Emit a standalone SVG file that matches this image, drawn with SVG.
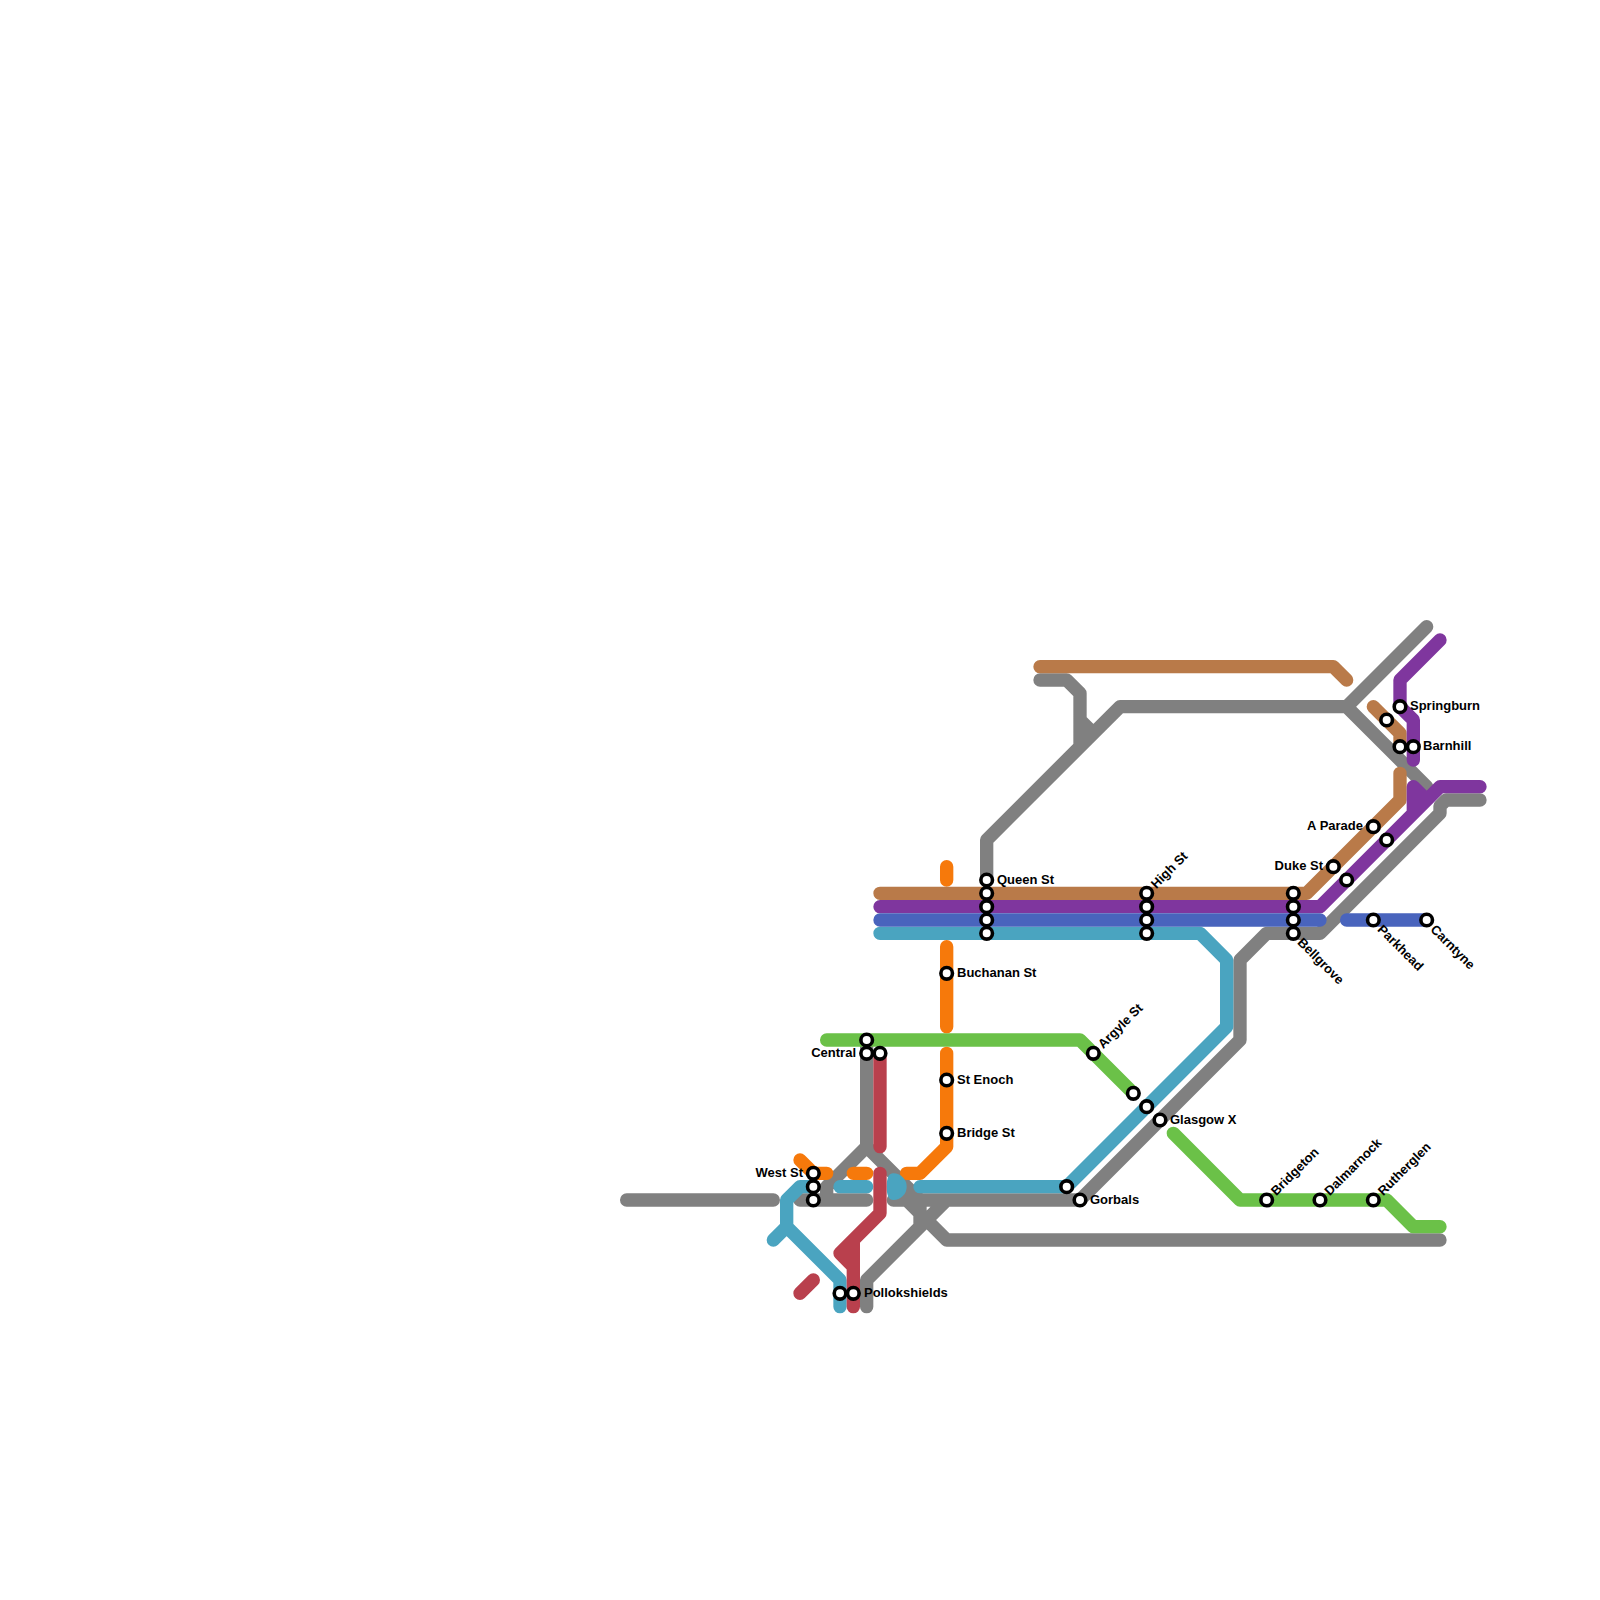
<svg xmlns="http://www.w3.org/2000/svg" width="1600" height="1600" viewBox="0 0 1600 1600">
<style>
.l{fill:none;stroke-width:1;stroke-linecap:round;stroke-linejoin:round}
.gray{stroke:#808080}.brown{stroke:#b97a49}.purple{stroke:#7f369e}.blue{stroke:#4964bd}.teal{stroke:#4aa4c0}.orange{stroke:#f6790b}.green{stroke:#6bc148}.red{stroke:#b9404d}
.blob{fill:#4aa4c0;stroke:none}
circle{fill:#fff;stroke:#000;stroke-width:3.6}
text{font-family:"Liberation Sans",Arial,sans-serif;font-weight:700;font-size:13px;fill:#000;dominant-baseline:central}
.e{text-anchor:end}
</style>
<rect width="1600" height="1600" fill="#fff"/>
<g id="connectors" transform="scale(13.33333)">
<path class="l gray" d="M47 90H58M60 90H65M65 78V86L62 89V90M65 86L69 90M65 98V96L71 90M69 92V90M68 90L71 93H108M67 90H81L93 78V72L95 70H99L108 61V60.45L108.45 60H111M78 51H80L81 52V56M74 66V63L84 53H101L107 47M101 53L107 59M81 54L82 55"/>
<path class="l green" d="M62 78H81L85 82M88 85L93 90H104L106 92H108"/>
<path class="l orange" d="M71 65V66M71 71V77M71 79V86L69 88H68M64 88H65M60 87L61 88H62"/>
<path class="l teal" d="M69 89H80L92 77V72L90 70H66M61 89H60L59 90V92L63 96V98M59 92L58 93M63 89H65"/>
<path class="blob" d="M66.5 89Q66.5 88 67 88A1 1 0 0 1 67 90Q66.5 90 66.5 89Z"/>
<path class="l red" d="M66 79V86M66 88V91L63 94L64 95V98M64 93V95M60 97L61 96"/>
<path class="l brown" d="M66 67H98L105 60V58M78 50H100L101 51M103 53L105 55V56"/>
<path class="l purple" d="M66 68H99L108 59H111M106 61V59L107 60M108 48L105 51V53L106 54V57"/>
<path class="l blue" d="M66 69H99M101 69H107"/>
</g>
<g id="n-west-st"><circle cx="813.33" cy="1173.33" r="5.8"/><circle cx="813.33" cy="1186.67" r="5.8"/><circle cx="813.33" cy="1200" r="5.8"/><text class="e" x="803" y="1172">West St</text></g>
<g id="n-central"><circle cx="866.67" cy="1040" r="5.8"/><circle cx="866.67" cy="1053.33" r="5.8"/><circle cx="880" cy="1053.33" r="5.8"/><text class="e" x="856" y="1052">Central</text></g>
<g id="n-pollokshields"><circle cx="840" cy="1293.33" r="5.8"/><circle cx="853.33" cy="1293.33" r="5.8"/><text x="864" y="1292">Pollokshields</text></g>
<g id="n-buchanan"><circle cx="946.67" cy="973.33" r="5.8"/><text x="957" y="972">Buchanan St</text></g>
<g id="n-st-enoch"><circle cx="946.67" cy="1080" r="5.8"/><text x="957" y="1079">St Enoch</text></g>
<g id="n-bridge-st"><circle cx="946.67" cy="1133.33" r="5.8"/><text x="957" y="1132">Bridge St</text></g>
<g id="n-queen-st"><circle cx="986.67" cy="880" r="5.8"/><circle cx="986.67" cy="893.33" r="5.8"/><circle cx="986.67" cy="906.67" r="5.8"/><circle cx="986.67" cy="920" r="5.8"/><circle cx="986.67" cy="933.33" r="5.8"/><text x="997" y="879">Queen St</text></g>
<g id="n-high-st"><circle cx="1146.67" cy="893.33" r="5.8"/><circle cx="1146.67" cy="906.67" r="5.8"/><circle cx="1146.67" cy="920" r="5.8"/><circle cx="1146.67" cy="933.33" r="5.8"/><text transform="translate(1153 886) rotate(-45)">High St</text></g>
<g id="n-bellgrove"><circle cx="1293.33" cy="893.33" r="5.8"/><circle cx="1293.33" cy="906.67" r="5.8"/><circle cx="1293.33" cy="920" r="5.8"/><circle cx="1293.33" cy="933.33" r="5.8"/><text transform="translate(1300 940) rotate(45)">Bellgrove</text></g>
<g id="n-argyle-st"><circle cx="1093.33" cy="1053.33" r="5.8"/><text transform="translate(1100 1046) rotate(-45)">Argyle St</text></g>
<g id="n-s1"><circle cx="1133.33" cy="1093.33" r="5.8"/></g>
<g id="n-glasgow-x"><circle cx="1146.67" cy="1106.67" r="5.8"/><circle cx="1160" cy="1120" r="5.8"/><text x="1170" y="1119">Glasgow X</text></g>
<g id="n-gorbals"><circle cx="1066.67" cy="1186.67" r="5.8"/><circle cx="1080" cy="1200" r="5.8"/><text x="1090" y="1199">Gorbals</text></g>
<g id="n-bridgeton"><circle cx="1266.67" cy="1200" r="5.8"/><text transform="translate(1273 1193) rotate(-45)">Bridgeton</text></g>
<g id="n-dalmarnock"><circle cx="1320" cy="1200" r="5.8"/><text transform="translate(1326.5 1193) rotate(-45)">Dalmarnock</text></g>
<g id="n-rutherglen"><circle cx="1373.33" cy="1200" r="5.8"/><text transform="translate(1380 1193) rotate(-45)">Rutherglen</text></g>
<g id="n-parkhead"><circle cx="1373.33" cy="920" r="5.8"/><text transform="translate(1380 927) rotate(45)">Parkhead</text></g>
<g id="n-carntyne"><circle cx="1426.67" cy="920" r="5.8"/><text transform="translate(1433 927) rotate(45)">Carntyne</text></g>
<g id="n-duke-st"><circle cx="1333.33" cy="866.67" r="5.8"/><circle cx="1346.67" cy="880" r="5.8"/><text class="e" x="1323" y="865">Duke St</text></g>
<g id="n-a-parade"><circle cx="1373.33" cy="826.67" r="5.8"/><circle cx="1386.67" cy="840" r="5.8"/><text class="e" x="1363" y="825">A Parade</text></g>
<g id="n-springburn"><circle cx="1400" cy="706.67" r="5.8"/><circle cx="1386.67" cy="720" r="5.8"/><text x="1410" y="705">Springburn</text></g>
<g id="n-barnhill"><circle cx="1400" cy="746.67" r="5.8"/><circle cx="1413.33" cy="746.67" r="5.8"/><text x="1423" y="745">Barnhill</text></g>
</svg>
